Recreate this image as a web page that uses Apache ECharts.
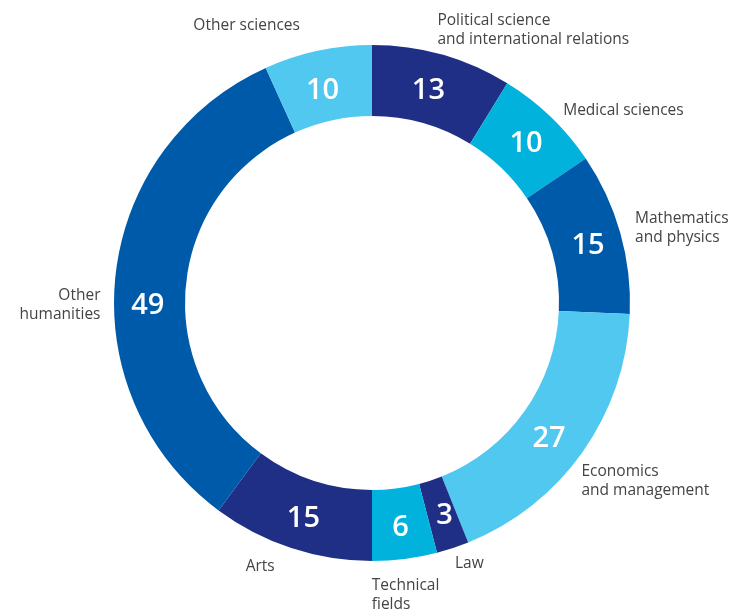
<!DOCTYPE html>
<html>
<head>
<meta charset="utf-8">
<script src="https://cdn.jsdelivr.net/npm/echarts@6/dist/echarts.min.js"></script>
<style>
  html, body { margin: 0; padding: 0; background: #fff; }
  #chart { width: 738px; height: 610px; }
</style>
</head>
<body>
<div id="chart"></div>
<script>
// fields and their counts, clockwise from the top
const fields = [
  'Political science\nand international relations',
  'Medical sciences',
  'Mathematics\nand physics',
  'Economics\nand management',
  'Law',
  'Technical\nfields',
  'Arts',
  'Other\nhumanities',
  'Other sciences'
]
const counts = [13, 10, 15, 27, 3, 6, 15, 49, 10]
const colors = ['#1f2f86', '#00b2dc', '#005aaa', '#50c8f0', '#1f2f86', '#00b2dc', '#1f2f86', '#005aaa', '#50c8f0']

// small nudges so the labels sit where the original put them
const numNudge = [[-5, 5], [-2, 4], [-1, 4], [-7, 6], [2, -1], [0, 1], [2, 2], [0, 27], [-2, 8]]
const nameNudge = [[-12, -17], [6, 0], [7, -2], [-15, 24], [-42, 8], [-39, 9], [-9, 11], [-2, 30], [-11, -17]]

const chart = echarts.init(document.getElementById('chart'))

const pieData = fields.map((name, i) => ({
  name,
  value: counts[i],
  itemStyle: { color: colors[i] }
}))

const base = {
  type: 'pie',
  center: [372, 303],
  radius: [187, 258],
  startAngle: 90,
  clockwise: true,
  silent: true,
  data: pieData
}

chart.setOption({
  animation: false,
  series: [
    {
      ...base,
      itemStyle: { borderColor: '#fff', borderWidth: 4 },
      label: {
        position: 'inside',
        formatter: '{c}',
        color: '#fff',
        fontFamily: 'Open Sans',
        fontWeight: 600,
        fontSize: 29
      },
      labelLine: { show: false },
      labelLayout: (p) => ({ dx: numNudge[p.dataIndex][0], dy: numNudge[p.dataIndex][1] })
    },
    {
      // outer name labels only
      ...base,
      itemStyle: { color: 'transparent' },
      label: {
        position: 'outside',
        formatter: '{b}',
        color: '#444',
        fontFamily: 'Open Sans',
        fontSize: 15.5,
        lineHeight: 19,
        overflow: 'none'
      },
      labelLine: { show: false, length: 8, length2: 0 },
      labelLayout: (p) => ({ dx: nameNudge[p.dataIndex][0], dy: nameNudge[p.dataIndex][1] })
    }
  ]
})
</script>
</body>
</html>
